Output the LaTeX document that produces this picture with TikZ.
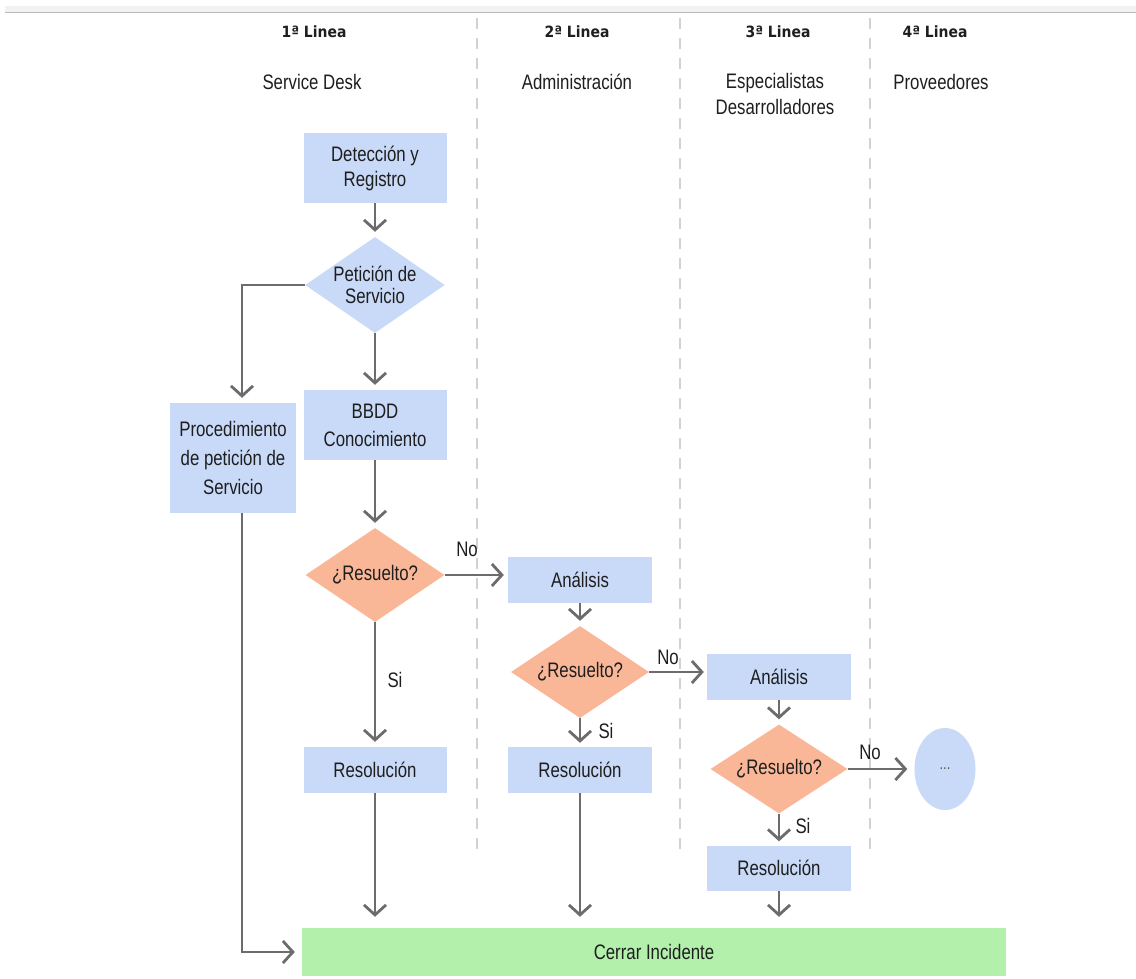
\documentclass[tikz,border=0pt]{standalone}
\usepackage{fontspec}
\setmainfont{Liberation Sans}[FakeStretch=0.8]
\newfontfamily\hdfont{DejaVu Sans}[FakeStretch=0.9]
\usetikzlibrary{arrows.meta,shapes.geometric}
\definecolor{boxblue}{RGB}{201,218,248}
\definecolor{decor}{RGB}{249,183,152}
\definecolor{closegreen}{RGB}{178,240,172}
\definecolor{linec}{RGB}{108,108,108}
\definecolor{lanec}{RGB}{210,210,210}
\definecolor{txtc}{RGB}{30,30,30}
\begin{document}
\begin{tikzpicture}[x=1pt,y=-1pt,
  txt/.style={font=\fontsize{21}{25}\selectfont, text=txtc},
  box/.style={txt, fill=boxblue, draw=none, minimum width=143pt, minimum height=46pt, align=center, inner sep=0pt},
  dec/.style={txt, diamond, fill=decor, draw=none, shape aspect=1.5, inner sep=0pt, minimum width=138pt, minimum height=92pt, align=center},
  flow/.style={draw=linec, line width=2pt, -{Straight Barb[length=10pt,width=22pt,line width=2.8pt]}},
  lane/.style={draw=lanec, line width=1.5pt, dash pattern=on 11pt off 9pt},
  hd/.style={font=\hdfont\bfseries\fontsize{15.5}{18}\selectfont, text=txtc},
  sub/.style={txt, align=center}]
\useasboundingbox (0,0) rectangle (1136,978);

% window strip along the top edge
\fill[gray!10] (5,6) rectangle (1136,12);
\draw[gray!55, line width=1.2pt] (5,12.5) -- (1136,12.5);

% lane separators
\draw[lane] (477,18) -- (477,858);
\draw[lane] (680,18) -- (680,858);
\draw[lane] (870,18) -- (870,858);

% lane headers
\node[hd] (h1) at (314,32) {1ª Linea};
\node[hd] (h2) at (577,32) {2ª Linea};
\node[hd] (h3) at (778,32) {3ª Linea};
\node[hd] (h4) at (935,32) {4ª Linea};
\node[sub] (s1) at (312,82) {Service Desk};
\node[sub] (s2) at (577,82) {Administración};
\node[sub, font=\fontsize{21}{26}\selectfont, anchor=north] (s3) at (775,70) {Especialistas\\Desarrolladores};
\node[sub] (s4) at (941,82) {Proveedores};

% first line
\node[box, minimum height=70pt] (det) at (375,168) {Detección y\\Registro};
\node[dec, fill=boxblue, minimum width=139pt, minimum height=96pt, font=\fontsize{21}{22}\selectfont] (pet) at (375,285) {Petición de\\Servicio};
\node[box, minimum height=70pt, font=\fontsize{21}{28}\selectfont] (bbdd) at (375,425) {BBDD\\Conocimiento};
\node[box, minimum width=126pt, minimum height=110pt, font=\fontsize{21}{29}\selectfont] (proc) at (233,458) {Procedimiento\\de petición de\\Servicio};
\node[dec, minimum width=139pt, minimum height=94pt] (r1) at (375,575) {¿Resuelto?};
\node[box] (res1) at (375,770) {Resolución};

% second line
\node[box, minimum width=144pt] (an2) at (580,580) {Análisis};
\node[dec] (r2) at (580,672) {¿Resuelto?};
\node[box, minimum width=144pt] (res2) at (580,770) {Resolución};

% third line
\node[box, minimum width=144pt] (an3) at (779,677) {Análisis};
\node[dec, minimum width=137pt, minimum height=89pt] (r3) at (779,769) {¿Resuelto?};
\node[box, minimum width=144pt, minimum height=45pt] (res3) at (779,868) {Resolución};

% fourth line
\node[ellipse, fill=boxblue, minimum width=61pt, minimum height=82pt, inner sep=0pt,
      font=\fontsize{16}{16}\selectfont, text=txtc!75] (more) at (945,769) {...};

% closing bar
\node[fill=closegreen, minimum width=704pt, minimum height=48pt, inner sep=0pt, txt] (cerrar) at (654,952) {Cerrar Incidente};

% connectors
\coordinate (pk) at (242,285);
\draw[flow, shorten >=5pt] (det.south) -- (pet.north);
\draw[flow, shorten >=5pt] (pet.south) -- (bbdd.north);
\draw[flow, shorten >=5pt] (pet.west) -- (pk) -- (pk |- proc.north);
\draw[flow, shorten >=5pt] (bbdd.south) -- (r1.north);
\draw[flow, shorten >=4pt] (r1.east) -- (r1.east -| an2.west);
\draw[flow, shorten >=5pt] (r1.south) -- (res1.north);
\draw[flow, shorten >=11pt] (res1.south) -- (res1.south |- cerrar.north);
\draw[flow, shorten >=5pt] (an2.south) -- (r2.north);
\draw[flow, shorten >=3pt] (r2.east) -- (r2.east -| an3.west);
\draw[flow, shorten >=4pt] (r2.south) -- (res2.north);
\draw[flow, shorten >=11pt] (res2.south) -- (res2.south |- cerrar.north);
\draw[flow, shorten >=5pt] (an3.south) -- (r3.north);
\draw[flow, shorten >=7pt] (r3.east) -- (r3.east -| more.west);
\draw[flow, shorten >=4pt] (r3.south) -- (res3.north);
\draw[flow, shorten >=11pt] (res3.south) -- (res3.south |- cerrar.north);
\draw[flow, shorten >=7pt] (pk |- proc.south) -- (pk |- cerrar.west) -- (cerrar.west);

% branch labels
\node[txt] (no1) at (467,549) {No};
\node[txt] (si1) at (395,680) {Si};
\node[txt] (no2) at (668,657) {No};
\node[txt] (si2) at (606,731) {Si};
\node[txt] (no3) at (870,752) {No};
\node[txt] (si3) at (803,826) {Si};
\end{tikzpicture}
\end{document}
